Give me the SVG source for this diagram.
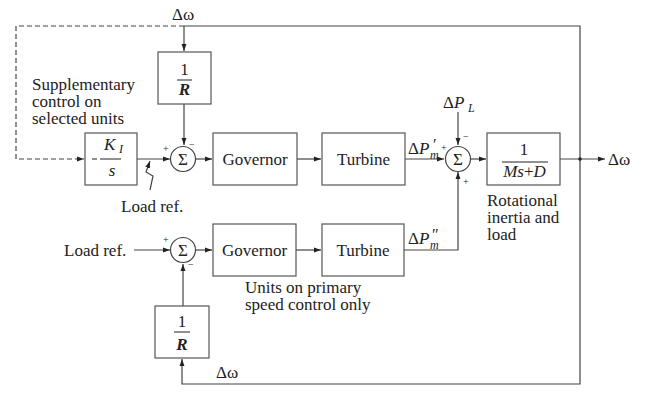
<svg xmlns="http://www.w3.org/2000/svg" width="647" height="407" viewBox="0 0 647 407">
<defs>
<marker id="ah" viewBox="0 0 10 10" refX="10" refY="5" markerWidth="7" markerHeight="7" orient="auto" markerUnits="userSpaceOnUse">
<path d="M0,1.5 L10,5 L0,8.5 Z" fill="#222"/>
</marker>
</defs>
<style>
text{font-family:"Liberation Serif","Times New Roman",serif;font-size:17px;fill:#222}
.it{font-style:italic}
.sm{font-size:12px}
.pr{font-size:16px}
.sg{font-size:10px}
.box{fill:#fff;stroke:#555;stroke-width:1.2}
.ln{fill:none;stroke:#444;stroke-width:1.2}
.ds{fill:none;stroke:#444;stroke-width:1.2;stroke-dasharray:5,3}
.fl{stroke:#222;stroke-width:1}
</style>
<rect width="647" height="407" fill="#fff"/>
<g id="connectors">
<path class="ds" d="M184,26 H16 V159 H84" marker-end="url(#ah)"/>
<path class="ln" d="M184,26 H580 V384 H182 V359" marker-end="url(#ah)"/>
<path class="ln" d="M184,26 V51" marker-end="url(#ah)"/>
<path class="ln" d="M184,104 V145" marker-end="url(#ah)"/>
<path class="ln" d="M137,159 H170" marker-end="url(#ah)"/>
<path class="ln" d="M150,190 L153,176 L146,172 L150,161" marker-end="url(#ah)"/>
<path class="ln" d="M196,159 H212" marker-end="url(#ah)"/>
<path class="ln" d="M297,159 H321" marker-end="url(#ah)"/>
<path class="ln" d="M405,159 H444" marker-end="url(#ah)"/>
<path class="ln" d="M458,112 V145" marker-end="url(#ah)"/>
<path class="ln" d="M404,250 H458 V172" marker-end="url(#ah)"/>
<path class="ln" d="M471,159 H486" marker-end="url(#ah)"/>
<path class="ln" d="M560,159 H605" marker-end="url(#ah)"/>
<circle cx="580" cy="159" r="1.8" fill="#222"/>
<path class="ln" d="M134,250 H170" marker-end="url(#ah)"/>
<path class="ln" d="M196,250 H212" marker-end="url(#ah)"/>
<path class="ln" d="M296,250 H321" marker-end="url(#ah)"/>
<path class="ln" d="M183,306 V264" marker-end="url(#ah)"/>
</g>
<g id="R1">
<rect class="box" x="158" y="52" width="53" height="52"/>
<text x="184.5" y="75" text-anchor="middle">1</text>
<line class="fl" x1="177" y1="80" x2="192" y2="80"/>
<text x="184.5" y="95" text-anchor="middle" class="it" font-weight="bold">R</text>
</g>
<g id="KI">
<rect class="box" x="85" y="133" width="52" height="52"/>
<line class="fl" x1="92" y1="159" x2="97" y2="159"/>
<line class="fl" x1="100" y1="159" x2="121" y2="159"/>
<text x="104" y="150" class="it">K</text>
<text x="119" y="153" class="it sm">I</text>
<text x="112" y="176" text-anchor="middle" class="it">s</text>
</g>
<g id="sum1">
<circle cx="183" cy="159" r="12.5" fill="#fff" stroke="#444" stroke-width="1.2"/>
<text x="183" y="165" text-anchor="middle" font-size="16">Σ</text>
<text x="163" y="152" class="sg">+</text>
<text x="189" y="148" class="sg">−</text>
</g>
<g id="gov1">
<rect class="box" x="213" y="133" width="84" height="52"/>
<text x="255" y="165" text-anchor="middle">Governor</text>
</g>
<g id="tur1">
<rect class="box" x="322" y="133" width="83" height="52"/>
<text x="363.5" y="165" text-anchor="middle">Turbine</text>
</g>
<g id="sum3">
<circle cx="458" cy="159" r="12.5" fill="#fff" stroke="#444" stroke-width="1.2"/>
<text x="458" y="165" text-anchor="middle" font-size="16">Σ</text>
<text x="441" y="151" class="sg">+</text>
<text x="463" y="140" class="sg">−</text>
<text x="463" y="185" class="sg">+</text>
</g>
<g id="plant">
<rect class="box" x="487" y="133" width="73" height="52"/>
<text x="524" y="155" text-anchor="middle">1</text>
<line class="fl" x1="502" y1="162" x2="548" y2="162"/>
<text x="524.5" y="177" text-anchor="middle" class="it">Ms<tspan font-style="normal">+</tspan>D</text>
</g>
<g id="sum2">
<circle cx="183" cy="250" r="12.5" fill="#fff" stroke="#444" stroke-width="1.2"/>
<text x="183" y="256" text-anchor="middle" font-size="16">Σ</text>
<text x="163" y="243" class="sg">+</text>
<text x="188" y="268" class="sg">−</text>
</g>
<g id="gov2">
<rect class="box" x="213" y="224" width="83" height="52"/>
<text x="254.5" y="256" text-anchor="middle">Governor</text>
</g>
<g id="tur2">
<rect class="box" x="322" y="224" width="82" height="52"/>
<text x="363" y="256" text-anchor="middle">Turbine</text>
</g>
<g id="R2">
<rect class="box" x="155" y="306" width="54" height="52"/>
<text x="182" y="327" text-anchor="middle">1</text>
<line class="fl" x1="174" y1="332" x2="190" y2="332"/>
<text x="182" y="350" text-anchor="middle" class="it" font-weight="bold">R</text>
</g>
<g id="labels">
<text x="172" y="20">Δω</text>
<text x="32" y="90">Supplementary</text>
<text x="32" y="107">control on</text>
<text x="32" y="124">selected units</text>
<text x="121" y="212">Load ref.</text>
<text x="64" y="256">Load ref.</text>
<text x="245" y="293">Units on primary</text>
<text x="245" y="310">speed control only</text>
<text x="216" y="378">Δω</text>
<text x="408" y="154">Δ<tspan class="it">P</tspan></text>
<text x="432" y="150" class="it pr">′</text>
<text x="430" y="159" class="it sm">m</text>
<text x="443" y="108">Δ<tspan class="it">P</tspan></text>
<text x="468" y="112" class="it sm">L</text>
<text x="408" y="244">Δ<tspan class="it">P</tspan></text>
<text x="431" y="240" class="it pr">″</text>
<text x="430" y="249" class="it sm">m</text>
<text x="487" y="206">Rotational</text>
<text x="487" y="223">inertia and</text>
<text x="487" y="240">load</text>
<text x="608" y="165">Δω</text>
</g>
</svg>
